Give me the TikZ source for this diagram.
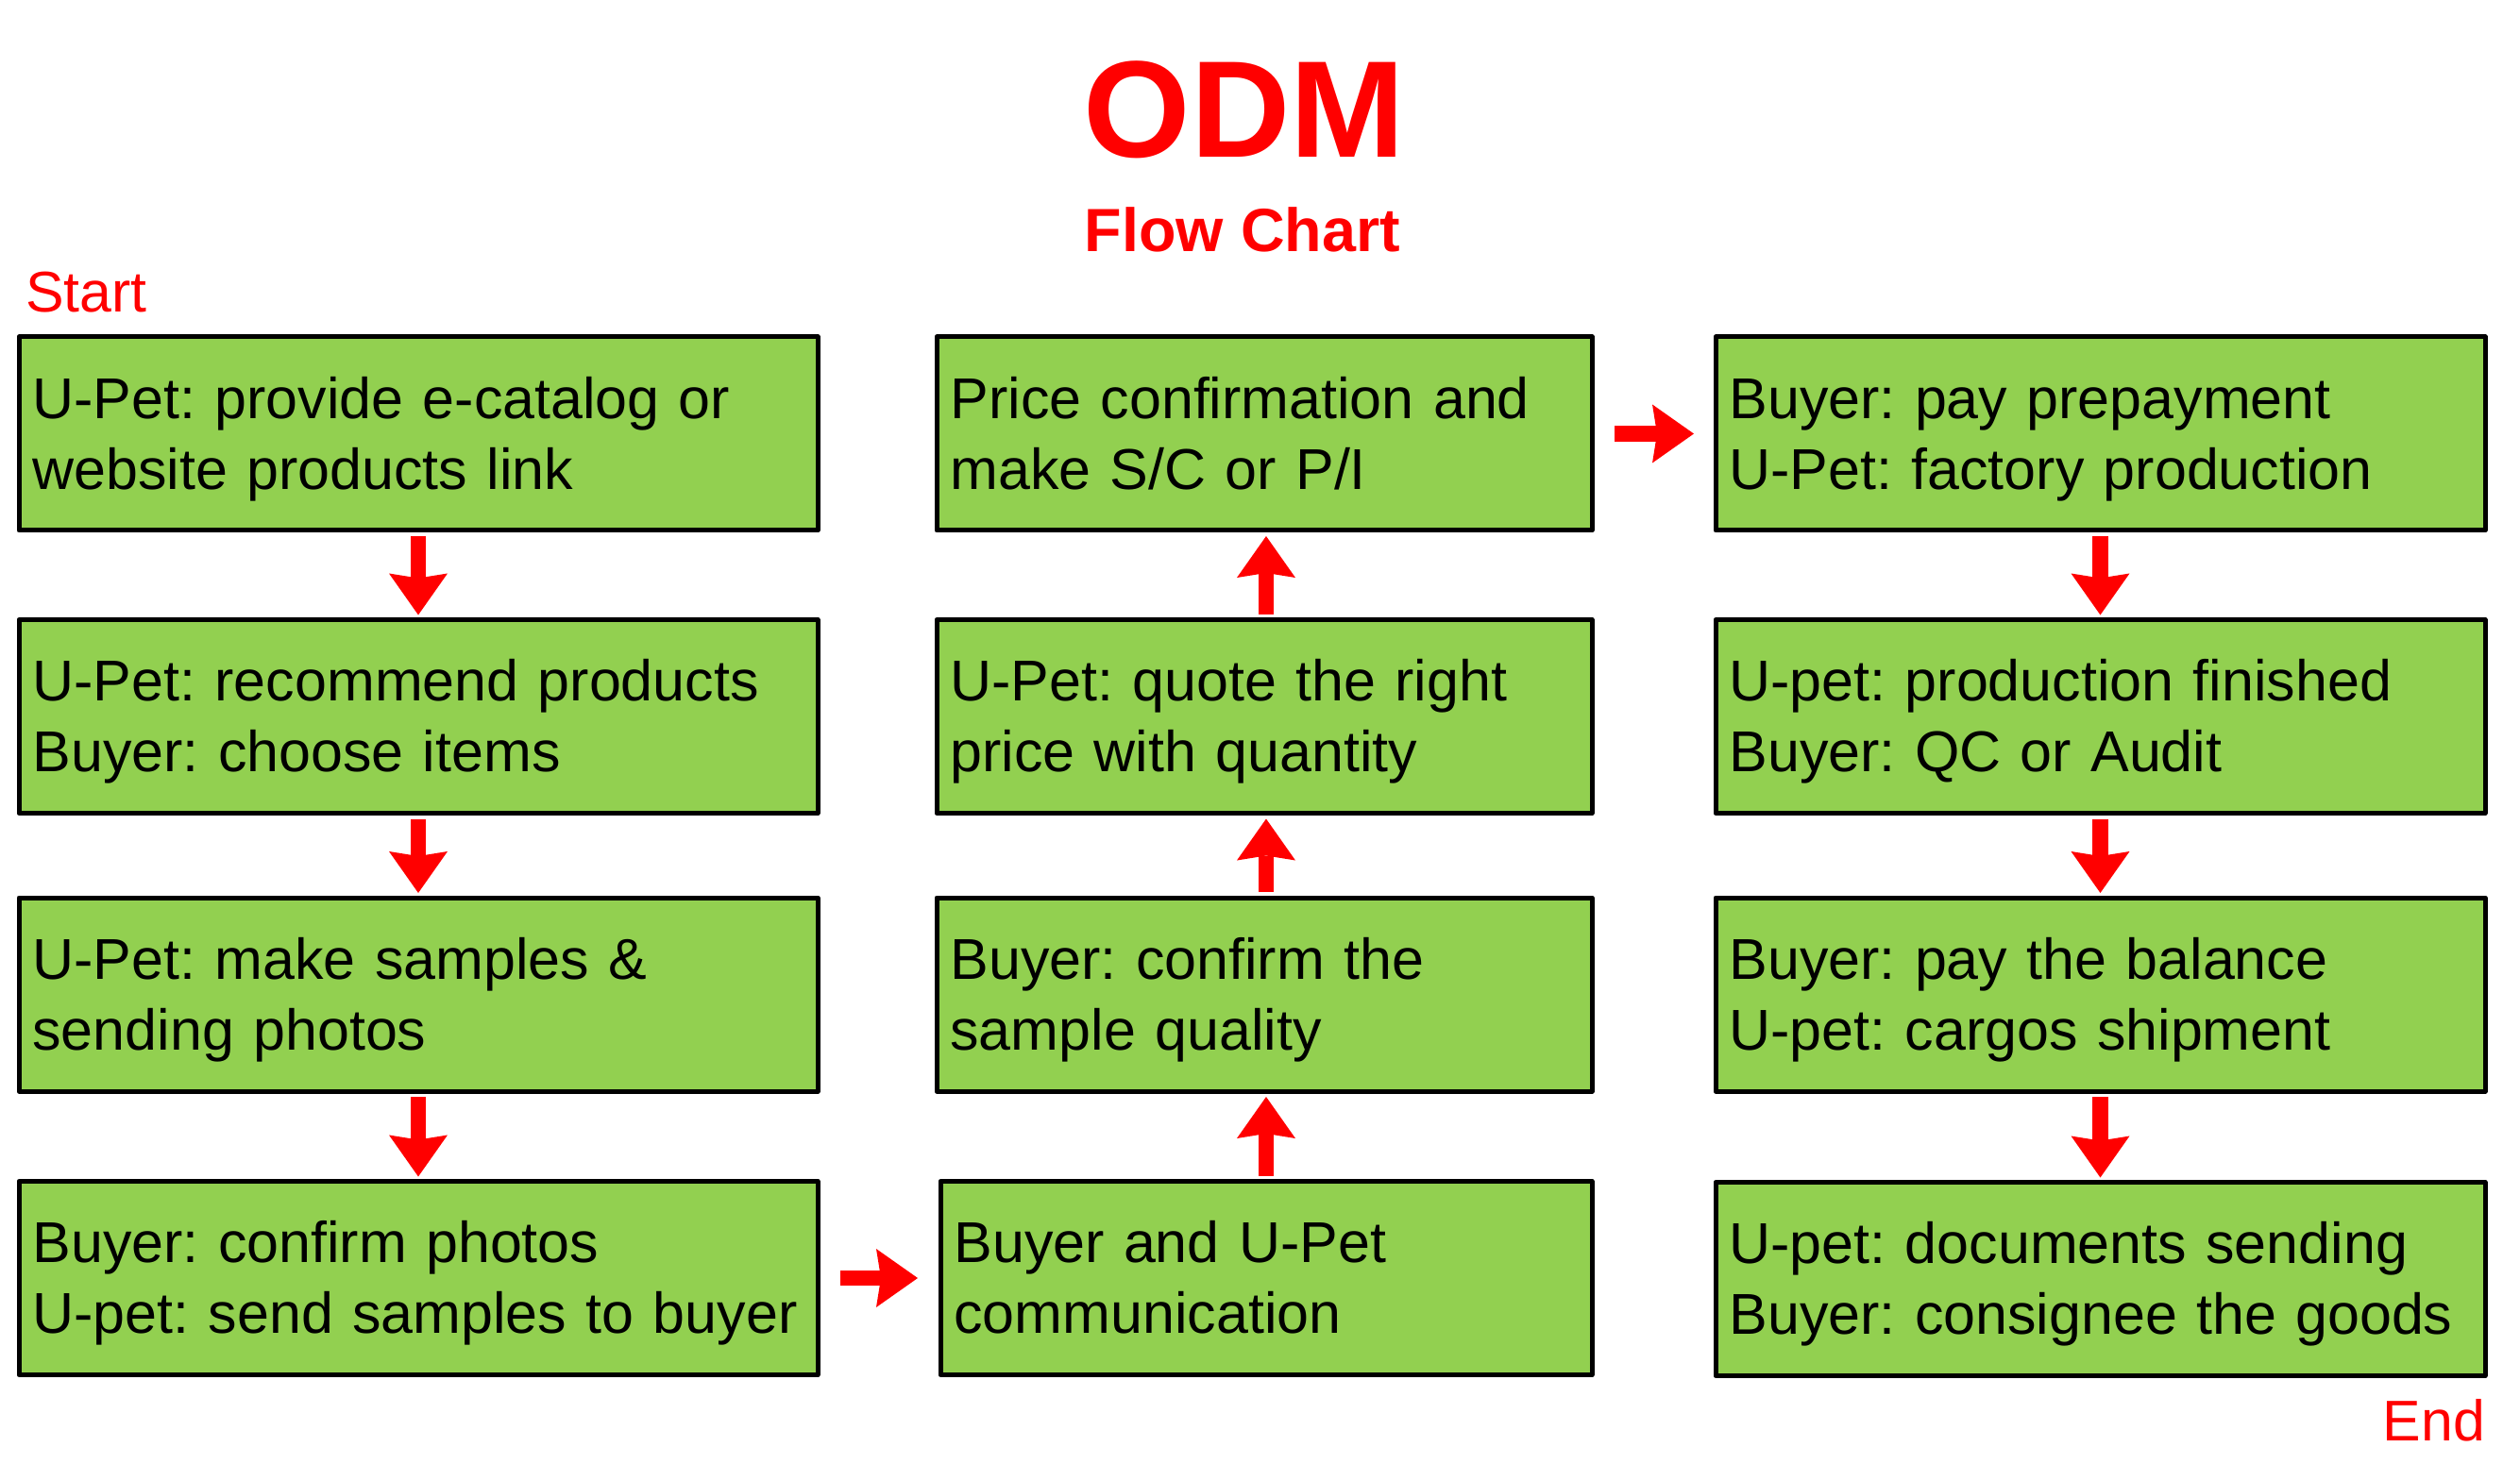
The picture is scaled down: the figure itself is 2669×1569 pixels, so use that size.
\documentclass[tikz,border=0pt]{standalone}
\usepackage{fontspec}
\setmainfont{Liberation Sans}
\usetikzlibrary{arrows.meta}
\definecolor{boxgreen}{HTML}{92D050}
\definecolor{arrowred}{HTML}{FF0000}
\begin{document}
\frenchspacing
\begin{tikzpicture}[x=0.1mm,y=-0.1mm,
  stepbox/.style 2 args={draw=black, line width=0.5mm, line join=round, fill=boxgreen,
    outer sep=0pt, inner sep=0pt, minimum height=20.5mm, minimum width=#1, text width=#2,
    align=left, text height=10pt, text depth=19.33pt,
    font=\frenchspacing\fontsize{17.35}{21.34}\selectfont},
  flowarrow/.style={draw=arrowred, line width=1.65mm,
    -{Stealth[length=4.4mm, width=6.2mm, inset=0.5mm, line width=0pt]}},
  redlabel/.style={text=arrowred, inner sep=0pt, outer sep=0pt}
]
\useasboundingbox (0,0) rectangle (2669,1569);

% titles
\node[redlabel, anchor=base, font=\bfseries\fontsize{41.5}{50}\selectfont] (title) at (1318,167) {ODM};
\node[redlabel, anchor=base, font=\bfseries\fontsize{18.4}{22}\selectfont] (subtitle) at (1316,267) {Flow Chart};
\node[redlabel, anchor=base west, font=\fontsize{17.3}{21.34}\selectfont] (start) at (27,331) {Start};
\node[redlabel, anchor=base east, font=\fontsize{17.3}{21.34}\selectfont] (end) at (2632,1526) {End};

% column 1
\node[stepbox={84.6mm}{81.7mm}] (c1r1) at (443,459.5) {U-Pet: provide e-catalog or\\website products link};
\node[stepbox={84.6mm}{81.7mm}] (c1r2) at (443,759) {U-Pet: recommend products\\Buyer: choose items};
\node[stepbox={84.6mm}{81.7mm}] (c1r3) at (443,1053.5) {U-Pet: make samples \&\\sending photos};
\node[stepbox={84.6mm}{81.7mm}] (c1r4) at (443,1354) {Buyer: confirm photos\\\mbox{U-pet: send samples to buyer}};

% column 2
\node[stepbox={69.0mm}{66.1mm}] (c2r4) at (1341,1354) {Buyer and U-Pet\\communication};
\node[stepbox={69.4mm}{66.5mm}] (c2r3) at (1339,1053.5) {Buyer: confirm the\\sample quality};
\node[stepbox={69.4mm}{66.5mm}] (c2r2) at (1339,759) {U-Pet: quote the right\\price with quantity};
\node[stepbox={69.4mm}{66.5mm}] (c2r1) at (1339,459.5) {Price confirmation and\\make S/C or P/I};

% column 3
\node[stepbox={81.5mm}{78.6mm}] (c3r1) at (2224.5,459.5) {Buyer: pay prepayment\\U-Pet: factory production};
\node[stepbox={81.5mm}{78.6mm}] (c3r2) at (2224.5,759) {U-pet: production finished\\Buyer: QC or Audit};
\node[stepbox={81.5mm}{78.6mm}] (c3r3) at (2224.5,1053.5) {Buyer: pay the balance\\U-pet: cargos shipment};
\node[stepbox={81.5mm}{78.6mm}] (c3r4) at (2224.5,1355) {U-pet: documents sending\\\mbox{Buyer: consignee the goods}};

% arrows column 1
\draw[flowarrow, shorten <=0.6mm, shorten >=0.5mm] (c1r1.south) -- (c1r2.north);
\draw[flowarrow, shorten <=0.6mm, shorten >=0.5mm] (c1r2.south) -- (c1r3.north);
\draw[flowarrow, shorten <=0.6mm, shorten >=0.5mm] (c1r3.south) -- (c1r4.north);
% across
\draw[flowarrow, shorten <=2.4mm, shorten >=2.4mm] (c1r4.east) -- (c2r4.west);
% column 2 up
\draw[flowarrow, shorten <=0.6mm, shorten >=0.6mm] (c2r4.north) -- (c2r4.north |- c2r3.south);
\draw[flowarrow, shorten <=0.6mm, shorten >=0.6mm] (c2r3.north -| c2r4.north) -- (c2r4.north |- c2r2.south);
\draw[flowarrow, shorten <=0.6mm, shorten >=0.6mm] (c2r2.north -| c2r4.north) -- (c2r4.north |- c2r1.south);
% across top
\draw[flowarrow, shorten <=2.4mm, shorten >=2.3mm] (c2r1.east) -- (c3r1.west);
% column 3
\draw[flowarrow, shorten <=0.6mm, shorten >=0.5mm] (c3r1.south) -- (c3r2.north);
\draw[flowarrow, shorten <=0.6mm, shorten >=0.5mm] (c3r2.south) -- (c3r3.north);
\draw[flowarrow, shorten <=0.6mm, shorten >=0.5mm] (c3r3.south) -- (c3r4.north);
\end{tikzpicture}
\end{document}
